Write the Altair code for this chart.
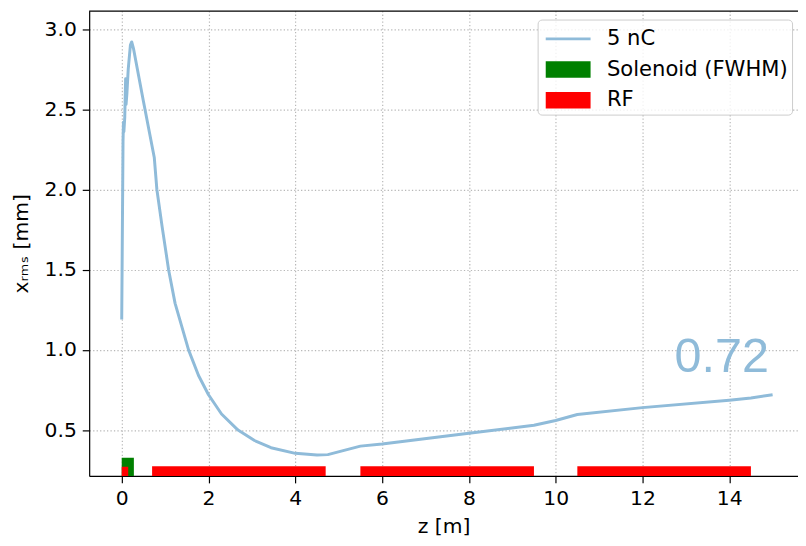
import altair as alt
import pandas as pd

# beam size curve (5 nC)
z_vals = [0.0, 0.03, 0.04, 0.05, 0.07, 0.09, 0.10, 0.12, 0.15, 0.20, 0.23, 0.27, 0.50, 0.75,
          0.81, 0.93, 1.08, 1.23, 1.54, 1.77, 2.0, 2.3, 2.68, 3.06, 3.44, 4.0, 4.5, 4.75,
          5.5, 6.0, 8.0, 9.5, 10.0, 10.5, 12.0, 14.0, 14.5, 15.0]
x_rms = [1.19, 2.30, 2.42, 2.36, 2.45, 2.69, 2.53, 2.60, 2.75, 2.90, 2.92, 2.88, 2.55, 2.20,
         2.0, 1.77, 1.50, 1.29, 1.00, 0.84, 0.72, 0.60, 0.50, 0.435, 0.39, 0.355, 0.345, 0.347,
         0.40, 0.413, 0.48, 0.53, 0.56, 0.597, 0.64, 0.686, 0.70, 0.72]

# element blocks
sol_start = [0.0]
sol_end = [0.28]
sol_height = [0.327]
rf_start = [0.0, 0.7, 5.5, 10.5]
rf_end = [0.15, 4.7, 9.5, 14.5]
rf_height = [0.272, 0.274, 0.274, 0.274]

series_names = ["5 nC", "Solenoid (FWHM)", "RF"]
series_colors = ["#8fbbd9", "#008000", "#ff0000"]
x_ticks = [0, 2, 4, 6, 8, 10, 12, 14]
y_ticks = [0.5, 1.0, 1.5, 2.0, 2.5, 3.0]
annotation = ["0.72"]
anno_z = [12.74]
anno_y = [0.862]

curve = pd.DataFrame({"z": z_vals, "x": x_rms, "i": list(range(len(z_vals))), "series": "5 nC"})
sol = pd.DataFrame({"z": sol_start, "z2": sol_end, "b": 0.0, "t": sol_height, "series": "Solenoid (FWHM)"})
rf = pd.DataFrame({"z": rf_start, "z2": rf_end, "b": 0.0, "t": rf_height, "series": "RF"})
anno = pd.DataFrame({"z": anno_z, "y": anno_y, "label": annotation})
legend_df = pd.DataFrame({"series": series_names, "z": 1.0, "y": -5.0})

FONT = "DejaVu Sans"
W, H = 716, 470
SYM = 912
xscale = alt.Scale(domain=[-0.75, 15.585], nice=False, zero=False)
yscale = alt.Scale(domain=[0.214, 3.115], nice=False, zero=False)
cscale = alt.Scale(domain=series_names, range=series_colors)
sscale = alt.Scale(domain=series_names, range=[
    "M-0.75,-0.09H2.25V0.09H-0.75Z",
    "M-0.75,-0.55H2.25V0.55H-0.75Z",
    "M-0.75,-0.55H2.25V0.55H-0.75Z",
])

xaxis = alt.Axis(values=x_ticks, title="z [m]", grid=True, ticks=True, domain=True, format="d")
yaxis = alt.Axis(values=y_ticks, title="xᵣₘₛ [mm]", grid=True, ticks=True, domain=True, format=".1f")

sol_layer = alt.Chart(sol).mark_rect(clip=True).encode(
    x=alt.X("z:Q", scale=xscale, axis=xaxis),
    x2="z2:Q",
    y=alt.Y("b:Q", scale=yscale, axis=yaxis),
    y2="t:Q",
    color=alt.Color("series:N", scale=cscale),
)
rf_layer = alt.Chart(rf).mark_rect(clip=True).encode(
    x=alt.X("z:Q", scale=xscale),
    x2="z2:Q",
    y=alt.Y("b:Q", scale=yscale),
    y2="t:Q",
    color=alt.Color("series:N", scale=cscale),
)
line_layer = alt.Chart(curve).mark_line(strokeWidth=3, clip=True, strokeJoin="round").encode(
    x=alt.X("z:Q", scale=xscale),
    y=alt.Y("x:Q", scale=yscale),
    order="i:Q",
    color=alt.Color("series:N", scale=cscale),
)
text_layer = alt.Chart(anno).mark_text(
    font="Liberation Sans", fontSize=49, align="left", baseline="alphabetic", color="#8fbbd9"
).encode(
    x=alt.X("z:Q", scale=xscale),
    y=alt.Y("y:Q", scale=yscale),
    text="label:N",
)
# top frame line of the axes box
top_frame = alt.Chart(anno).mark_rule(color="black", strokeWidth=1.2).encode(
    x=alt.value(0), x2=alt.value(W), y=alt.value(0.5)
)
leg = alt.Legend(
    title=None, orient="none", legendX=453, legendY=9, padding=4,
    strokeColor="#cccccc", fillColor="rgba(255,255,255,0.8)", cornerRadius=4,
    labelFont=FONT, labelFontSize=21.3, labelColor="black", labelOffset=35, labelLimit=400,
    labelExpr="datum.label + ' '",
    symbolSize=SYM, rowPadding=5, symbolStrokeWidth=0,
)
legend_layer = alt.Chart(legend_df).mark_point(filled=True, opacity=1, size=SYM, clip=True).encode(
    x=alt.X("z:Q", scale=xscale),
    y=alt.Y("y:Q", scale=yscale),
    color=alt.Color("series:N", scale=cscale, legend=leg),
    shape=alt.Shape("series:N", scale=sscale, legend=leg),
)

chart = alt.layer(sol_layer, rf_layer, line_layer, text_layer, legend_layer, top_frame).properties(
    width=W, height=H,
    autosize=alt.AutoSizeParams(type="none"),
    padding={"left": 82, "top": 0, "right": 0, "bottom": 60},
).configure_view(
    stroke=None
).configure_axis(
    labelFont=FONT, labelFontSize=20.5, labelColor="black",
    titleFont=FONT, titleFontSize=20.5, titleColor="black", titleFontWeight="normal",
    domainColor="black", domainWidth=1.2,
    tickColor="black", tickWidth=1.2, tickSize=7,
    labelPadding=6,
    gridColor="#b8b8b8", gridDash=[1.3, 2.2], gridWidth=1.2, gridOpacity=1,
).configure_axisX(
    titlePadding=8,
).configure_axisY(
    titlePadding=13,
)

chart.save("out.html", embed_options={"renderer": "svg", "actions": False})
